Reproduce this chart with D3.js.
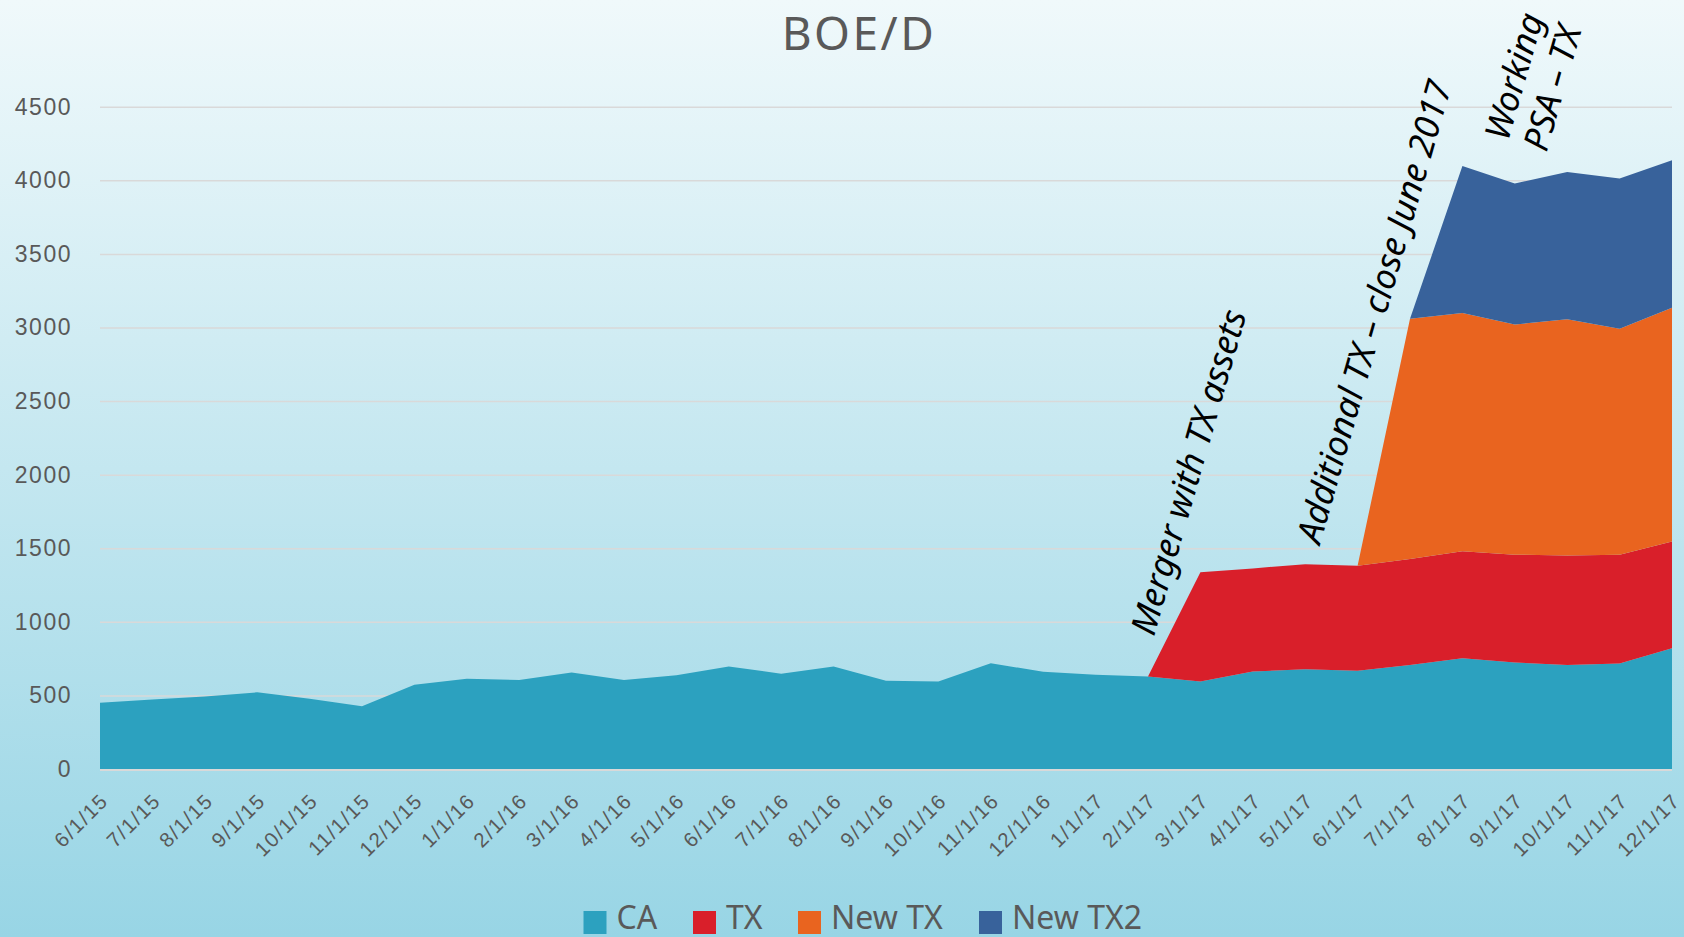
<!DOCTYPE html>
<html>
<head>
<meta charset="utf-8">
<script src="https://cdn.jsdelivr.net/npm/d3@7"></script>
<style>
  body { margin: 0; }
  svg { display: block; font-family: "Noto Sans", "Open Sans", sans-serif; }
</style>
</head>
<body>
<div id="chart"></div>
<script>
// months on the category axis
const dates = ["6/1/15","7/1/15","8/1/15","9/1/15","10/1/15","11/1/15","12/1/15",
  "1/1/16","2/1/16","3/1/16","4/1/16","5/1/16","6/1/16","7/1/16","8/1/16","9/1/16","10/1/16","11/1/16","12/1/16",
  "1/1/17","2/1/17","3/1/17","4/1/17","5/1/17","6/1/17","7/1/17","8/1/17","9/1/17","10/1/17","11/1/17","12/1/17"];

// BOE/D by asset group
const ca    = [450,473,493,521,477,427,573,614,605,655,605,637,696,648,696,600,594,719,660,640,628,594,662,678,667,707,753,723,707,716,821];
const tx    = [0,0,0,0,0,0,0,0,0,0,0,0,0,0,0,0,0,0,0,0,0,742,701,714,714,719,726,733,744,740,725];
const newTx = [0,0,0,0,0,0,0,0,0,0,0,0,0,0,0,0,0,0,0,0,0,0,0,0,0,1633,1619,1564,1604,1535,1588];
const newTx2= [0,0,0,0,0,0,0,0,0,0,0,0,0,0,0,0,0,0,0,0,0,0,0,0,0,0,999,958,1002,1021,1002];

const seriesNames = ["CA","TX","New TX","New TX2"];
const colors = ["#2ca1bf","#d91f2a","#e9641f","#38629b"];
const yTicks = [0,500,1000,1500,2000,2500,3000,3500,4000,4500];

const W = 1684, H = 937;

const svg = d3.select("#chart").append("svg")
    .attr("width", W)
    .attr("height", H);

// background gradient
const grad = svg.append("defs").append("linearGradient")
    .attr("id", "bg").attr("x1", 0).attr("y1", 0).attr("x2", 0).attr("y2", 1);
grad.append("stop").attr("offset", "0%").attr("stop-color", "#f0f9fb");
grad.append("stop").attr("offset", "100%").attr("stop-color", "#98d5e5");
svg.append("rect").attr("width", W).attr("height", H).attr("fill", "url(#bg)");

const x = d3.scalePoint().domain(dates).range([100, 1672]);
const y = d3.scaleLinear().domain([0, 4500]).range([769, 106.7]);

// gridlines + y labels
const yAxis = svg.append("g")
    .attr("transform", "translate(100,0)")
    .call(d3.axisLeft(y).tickValues(yTicks).tickSize(-1572).tickPadding(28).tickFormat(d3.format("d")));
yAxis.select(".domain").remove();
yAxis.selectAll(".tick line").attr("stroke", "#d9d9d9").attr("stroke-width", 1.5);
yAxis.selectAll(".tick text")
    .attr("fill", "#595959")
    .style("font-size", "23px")
    .style("letter-spacing", "1.5px");

// stacked areas
const rows = dates.map((d, i) => ({date: d, "CA": ca[i], "TX": tx[i], "New TX": newTx[i], "New TX2": newTx2[i]}));
const stacked = d3.stack().keys(seriesNames)(rows);

const area = d3.area()
    .x(d => x(d.data.date))
    .y0(d => y(d[0]))
    .y1(d => y(d[1]));

svg.append("g").selectAll("path")
    .data(stacked)
    .join("path")
    .attr("d", area)
    .attr("fill", (d, i) => colors[i]);

// x axis
const xAxis = svg.append("g")
    .attr("transform", "translate(0,769)")
    .call(d3.axisBottom(x).tickSize(0).tickPadding(0));
xAxis.select(".domain").attr("stroke", "#d9d9d9").attr("stroke-width", 2).attr("d", "M100,1H1672");
xAxis.selectAll(".tick text")
    .attr("fill", "#595959")
    .style("font-size", "20.5px")
    .style("letter-spacing", "1.5px")
    .attr("text-anchor", "end")
    .attr("dy", 0)
    .attr("y", 0)
    .attr("transform", "translate(9,33) rotate(-45)");

// title
svg.append("text")
    .attr("x", 859).attr("y", 49.5)
    .attr("text-anchor", "middle")
    .attr("fill", "#595959")
    .style("font-size", "46px")
    .style("letter-spacing", "2.5px")
    .text("BOE/D");

// annotations
const notes = [
  {lines: ["Merger with TX assets"], x: 1154, y: 637},
  {lines: ["Additional TX \u2013 close June 2017"], x: 1320, y: 545},
  {lines: ["Working", "PSA \u2013 TX"], x: 1508, y: 142}
];
notes.forEach(n => {
  const t = svg.append("text")
      .attr("transform", `translate(${n.x},${n.y}) rotate(-74)`)
      .attr("fill", "#000")
      .style("font-size", "35px")
      .style("font-style", "italic");
  n.lines.forEach((l, i) => {
    t.append("tspan").attr("x", 0).attr("dy", i === 0 ? 0 : 40).text(l);
  });
});

// legend
const legendX = [583.5, 693, 798, 979];
const legend = svg.append("g");
seriesNames.forEach((s, i) => {
  legend.append("rect")
      .attr("x", legendX[i]).attr("y", 911)
      .attr("width", 23).attr("height", 23)
      .attr("fill", colors[i]);
  legend.append("text")
      .attr("x", legendX[i] + 33).attr("y", 929)
      .attr("fill", "#595959")
      .style("font-size", "32px")
      .text(s);
});
</script>
</body>
</html>
